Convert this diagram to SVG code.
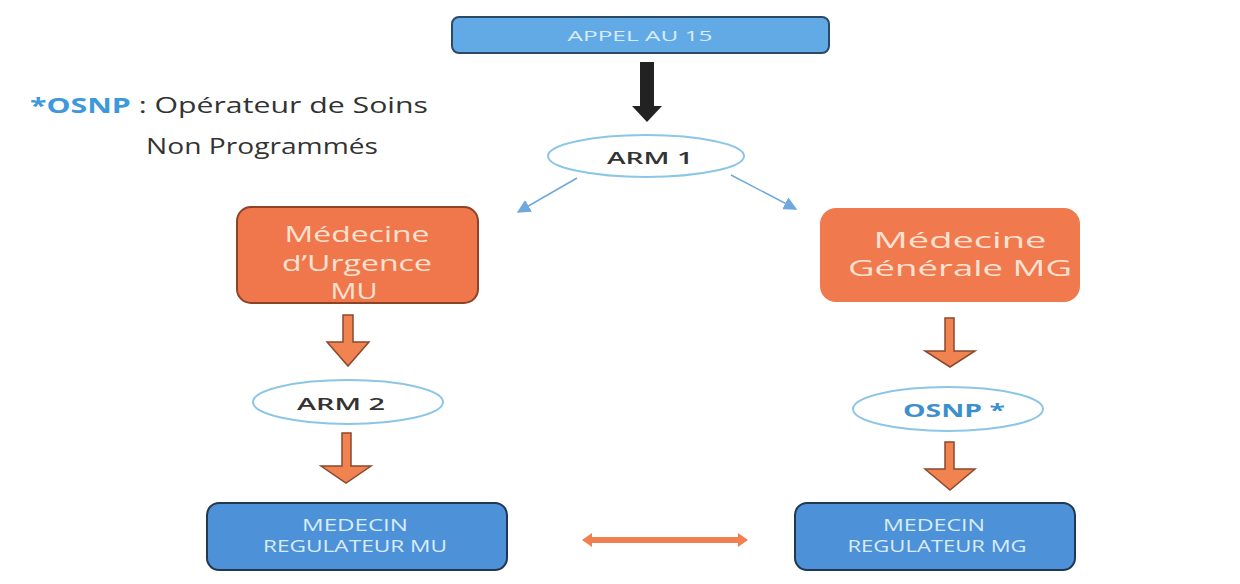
<svg xmlns="http://www.w3.org/2000/svg" width="1240" height="584" viewBox="0 0 1240 584">
<defs>
<style>
.t{font-family:"Open Sans","Noto Sans",sans-serif;text-anchor:middle;dominant-baseline:central}
.bluebox{fill:#62aae6;stroke:#2c4a66;stroke-width:2}
.bluebox2{fill:#4d91d8;stroke:#22384f;stroke-width:2}
.orange{fill:#f0774c;stroke:#8c4326;stroke-width:2}
.ell{fill:#fff;stroke:#8cc6e6;stroke-width:2}
.lt{fill:#d8ecf8}
.lo{fill:#fde2d2}
.dk{fill:#333}
.hollow{fill:#f0834f;stroke:#8a4a30;stroke-width:1.5}
</style>
<marker id="bh" viewBox="0 0 10 10" refX="9" refY="5" markerWidth="9" markerHeight="9" orient="auto-start-reverse">
<path d="M0,0 L10,5 L0,10 z" fill="#6fa8dc"/>
</marker>
</defs>
<rect width="1240" height="584" fill="#fff"/>

<g id="legend">
<text x="30" y="105" font-family="Open Sans, sans-serif" font-size="21" dominant-baseline="central" textLength="398" lengthAdjust="spacingAndGlyphs"><tspan fill="#3d98dc" font-weight="bold">*OSNP</tspan><tspan fill="#333"> : Opérateur de Soins</tspan></text>
<text x="146" y="146" font-family="Open Sans, sans-serif" font-size="21" fill="#333" dominant-baseline="central" textLength="232" lengthAdjust="spacingAndGlyphs">Non Programmés</text>
</g>

<g id="appel">
<rect class="bluebox" x="452" y="17" width="377" height="36" rx="7"/>
<text class="t lt" x="640" y="35" font-size="15" textLength="145" lengthAdjust="spacingAndGlyphs">APPEL AU 15</text>
</g>

<g id="arm1">
<ellipse class="ell" cx="646" cy="156" rx="98" ry="21"/>
<text class="t dk" x="650" y="157" font-size="17" font-weight="600" textLength="86" lengthAdjust="spacingAndGlyphs">ARM 1</text>
</g>

<g id="mu">
<rect class="orange" x="237" y="207" width="241" height="96" rx="14"/>
<text class="t lo" x="357" y="233" font-size="22" textLength="145" lengthAdjust="spacingAndGlyphs">Médecine</text>
<text class="t lo" x="357" y="262" font-size="22" textLength="150" lengthAdjust="spacingAndGlyphs">d’Urgence</text>
<text class="t lo" x="354" y="290" font-size="22" textLength="47" lengthAdjust="spacingAndGlyphs">MU</text>
</g>

<g id="mg">
<rect x="820" y="208" width="260" height="94" rx="16" fill="#f0794e"/>
<text class="t lo" x="960" y="240" font-size="21" textLength="173" lengthAdjust="spacingAndGlyphs">Médecine</text>
<text class="t lo" x="960" y="268" font-size="21" textLength="224" lengthAdjust="spacingAndGlyphs">Générale MG</text>
</g>

<g id="arm2">
<ellipse class="ell" cx="348" cy="402" rx="95" ry="22"/>
<text class="t dk" x="341" y="403" font-size="17" font-weight="600" textLength="88" lengthAdjust="spacingAndGlyphs">ARM 2</text>
</g>

<g id="osnp">
<ellipse class="ell" cx="948" cy="409" rx="95" ry="22"/>
<text class="t" x="954" y="410" font-size="17" font-weight="bold" fill="#3d8fcc" textLength="102" lengthAdjust="spacingAndGlyphs">OSNP *</text>
</g>

<g id="regmu">
<rect class="bluebox2" x="207" y="503" width="300" height="67" rx="12"/>
<text class="t lt" x="355" y="525" font-size="16" textLength="106" lengthAdjust="spacingAndGlyphs">MEDECIN</text>
<text class="t lt" x="355" y="546" font-size="16" textLength="184" lengthAdjust="spacingAndGlyphs">REGULATEUR MU</text>
</g>

<g id="regmg">
<rect class="bluebox2" x="795" y="503" width="280" height="67" rx="12"/>
<text class="t lt" x="934" y="525" font-size="16" textLength="102" lengthAdjust="spacingAndGlyphs">MEDECIN</text>
<text class="t lt" x="937" y="546" font-size="16" textLength="179" lengthAdjust="spacingAndGlyphs">REGULATEUR MG</text>
</g>

<g id="connectors">
<path d="M640,62 h14 v44 h8 l-15,16 l-15,-16 h8 z" fill="#222"/>
<line x1="577" y1="178" x2="518" y2="212" stroke="#6fa8dc" stroke-width="1.5" marker-end="url(#bh)"/>
<line x1="731" y1="175" x2="796" y2="209" stroke="#6fa8dc" stroke-width="1.5" marker-end="url(#bh)"/>
<path class="hollow" d="M343,315 h10 v27 h16 l-21,24 l-21,-24 h16 z"/>
<path class="hollow" d="M342,433 h9 v33 h20 l-25,17 l-25,-17 h21 z"/>
<path class="hollow" d="M945,318 h9 v33 h21 l-25,16 l-25,-16 h20 z"/>
<path class="hollow" d="M945,442 h9 v27 h21 l-25,21 l-25,-21 h20 z"/>
<path d="M582,540 l10,-7 v4 h146 v-4 l10,7 l-10,7 v-4 h-146 v4 z" fill="#f08052"/>
</g>
</svg>
